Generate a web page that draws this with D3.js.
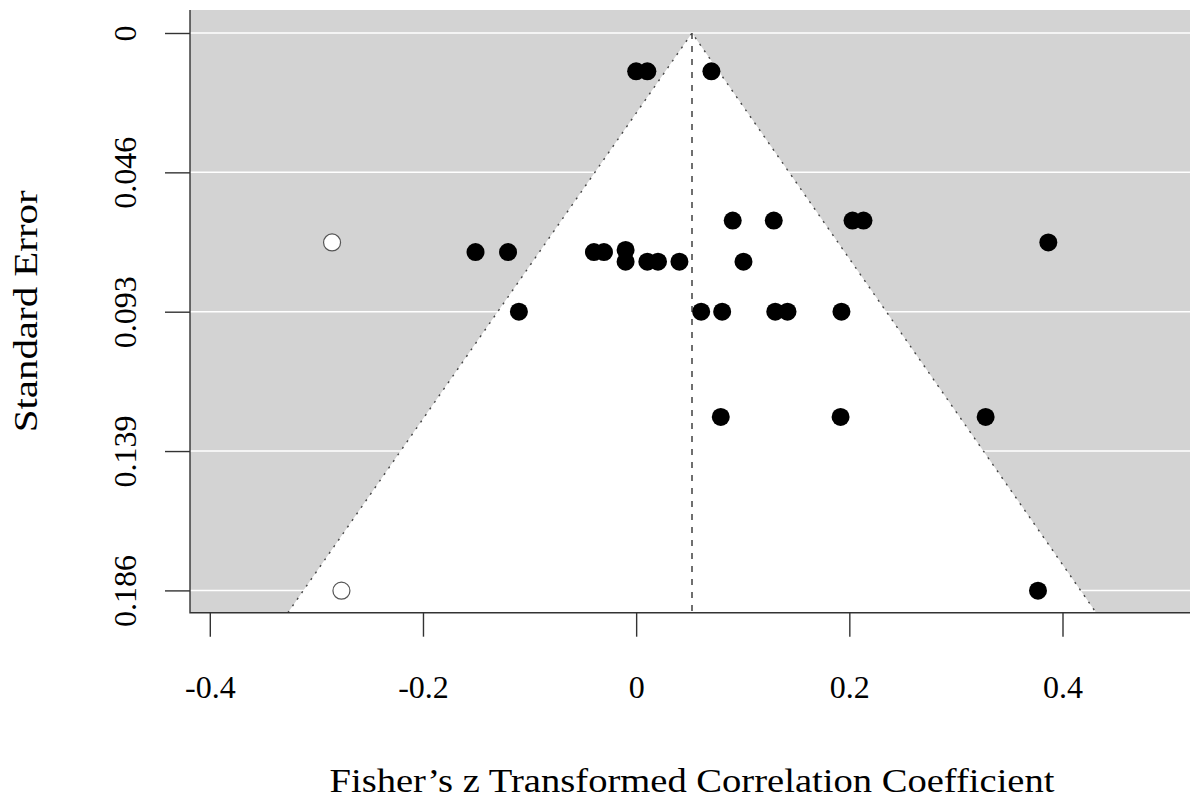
<html>

<head>
    <script src="https://d3js.org/d3.v7.min.js"></script>
    <style>
        body { margin: 0; background: #fff; }
        text { font-family: "Liberation Serif", "Times New Roman", serif; fill: #000; }
    </style>
</head>

<body>
    <div id="chart">
        <svg width="1190" height="800"></svg>
    </div>
    <script>
        // effect sizes (Fisher's z) and their standard errors
        var effects = [0.000, 0.0105, 0.0706,
            0.0906, 0.1291, 0.2030, 0.2133,
            0.3867,
            -0.1507, -0.1202, -0.0396, -0.0302, -0.0099,
            -0.0099, 0.0105, 0.0205, 0.0406, 0.1007,
            -0.1100, 0.0610, 0.0807, 0.1305, 0.1420, 0.1926,
            0.0794, 0.1918, 0.3279,
            0.3770
        ]
        var stdErrors = [0.0128, 0.0128, 0.0128,
            0.0626, 0.0626, 0.0626, 0.0626,
            0.0699,
            0.0731, 0.0731, 0.0731, 0.0731, 0.0724,
            0.0763, 0.0763, 0.0763, 0.0763, 0.0763,
            0.0930, 0.0930, 0.0930, 0.0930, 0.0930, 0.0930,
            0.1281, 0.1281, 0.1281,
            0.1861
        ]
        // imputed studies (trim and fill), drawn as open circles
        var filledEffects = [-0.2853, -0.2765]
        var filledStdErrors = [0.0699, 0.1861]

        var estimate = 0.0524

        var xTicks = [-0.4, -0.2, 0, 0.2, 0.4]
        var xTickLabels = ['-0.4', '-0.2', '0', '0.2', '0.4']
        var seTicks = [0, 0.0465, 0.093, 0.1395, 0.186]
        var seTickLabels = ['0', '0.046', '0.093', '0.139', '0.186']

        var svg = d3.select('#chart svg')

        // note: "top" is taken by window.top, so use plot* names
        var plotLeft = 190,
            plotRight = 1194,
            plotTop = 10,
            plotBottom = 612.7

        var x = d3.scaleLinear()
            .domain([-0.4, 0.4])
            .range([209.8, 1062.5])

        var y = d3.scaleLinear()
            .domain([0, 0.186])
            .range([33, 590.4])

        // grey background
        svg.append('rect')
            .attr('x', plotLeft)
            .attr('y', plotTop)
            .attr('width', plotRight - plotLeft)
            .attr('height', plotBottom - plotTop)
            .style('fill', '#d3d3d3')

        // white grid lines at the SE ticks
        svg.selectAll('line.grid')
            .data(seTicks)
            .enter()
            .append('line')
            .classed('grid', true)
            .attr('x1', plotLeft)
            .attr('x2', plotRight)
            .attr('y1', function(d) { return y(d) })
            .attr('y2', function(d) { return y(d) })
            .style('stroke', '#fff')
            .style('stroke-width', 1.5)

        // funnel (pseudo confidence region)
        var seBottom = y.invert(plotBottom)
        var funnel = [
            [estimate - 1.96 * seBottom, seBottom],
            [estimate, 0],
            [estimate + 1.96 * seBottom, seBottom]
        ]
        svg.append('path')
            .attr('d', 'M' + funnel.map(function(p) { return x(p[0]) + ',' + y(p[1]) }).join('L') + 'Z')
            .style('fill', '#fff')

        svg.append('path')
            .attr('d', 'M' + funnel.map(function(p) { return x(p[0]) + ',' + y(p[1]) }).join('L'))
            .style('fill', 'none')
            .style('stroke', '#444')
            .style('stroke-width', 1.4)
            .style('stroke-dasharray', '2,6')

        svg.append('line')
            .attr('x1', x(estimate))
            .attr('x2', x(estimate))
            .attr('y1', y(0))
            .attr('y2', plotBottom)
            .style('stroke', '#333')
            .style('stroke-width', 1.4)
            .style('stroke-dasharray', '6,7')

        // observed studies
        svg.selectAll('circle.obs')
            .data(effects)
            .enter()
            .append('circle')
            .classed('obs', true)
            .attr('r', 9)
            .attr('cx', function(d) { return x(d) })
            .attr('cy', function(d, i) { return y(stdErrors[i]) })
            .style('fill', '#000')

        // filled-in studies
        svg.selectAll('circle.fill')
            .data(filledEffects)
            .enter()
            .append('circle')
            .classed('fill', true)
            .attr('r', 8.5)
            .attr('cx', function(d) { return x(d) })
            .attr('cy', function(d, i) { return y(filledStdErrors[i]) })
            .style('fill', '#fff')
            .style('stroke', '#555')
            .style('stroke-width', 1.2)

        // box lines (left and bottom)
        svg.append('path')
            .attr('d', 'M' + plotLeft + ',' + plotTop + 'L' + plotLeft + ',' + plotBottom + 'L' + plotRight + ',' + plotBottom)
            .style('fill', 'none')
            .style('stroke', '#333')
            .style('stroke-width', 1.4)

        var xAxis = d3.axisBottom(x)
            .tickValues(xTicks)
            .tickFormat(function(d, i) { return xTickLabels[i] })
            .tickSize(24)
            .tickPadding(39)
        var gx = svg.append('g')
            .attr('transform', 'translate(0,' + plotBottom + ')')
            .call(xAxis)
        gx.select('.domain').remove()
        gx.selectAll('line').style('stroke', '#333').style('stroke-width', 1.4)
        gx.selectAll('text')
            .style('font-family', '"Liberation Serif", serif')
            .style('font-size', '32px')
            .style('fill', '#000')

        var yAxis = d3.axisLeft(y)
            .tickValues(seTicks)
            .tickFormat(function(d, i) { return seTickLabels[i] })
            .tickSize(25)
        var gy = svg.append('g')
            .attr('transform', 'translate(' + plotLeft + ',0)')
            .call(yAxis)
        gy.select('.domain').remove()
        gy.selectAll('line').style('stroke', '#333').style('stroke-width', 1.4)
        gy.selectAll('text')
            .attr('x', null)
            .attr('dy', null)
            .attr('text-anchor', 'middle')
            .attr('transform', 'translate(-54,0) rotate(-90)')
            .style('font-family', '"Liberation Serif", serif')
            .style('font-size', '32px')
            .style('fill', '#000')

        // axis titles
        svg.append('text')
            .attr('x', (plotLeft + plotRight) / 2)
            .attr('y', 792)
            .attr('text-anchor', 'middle')
            .attr('textLength', 725)
            .attr('lengthAdjust', 'spacingAndGlyphs')
            .style('font-size', '33px')
            .text('Fisher\u2019s z Transformed Correlation Coefficient')

        svg.append('text')
            .attr('transform', 'translate(37,' + (plotTop + plotBottom) / 2 + ') rotate(-90)')
            .attr('text-anchor', 'middle')
            .attr('textLength', 242)
            .attr('lengthAdjust', 'spacingAndGlyphs')
            .style('font-size', '33px')
            .text('Standard Error')
    </script>
</body>

</html>
